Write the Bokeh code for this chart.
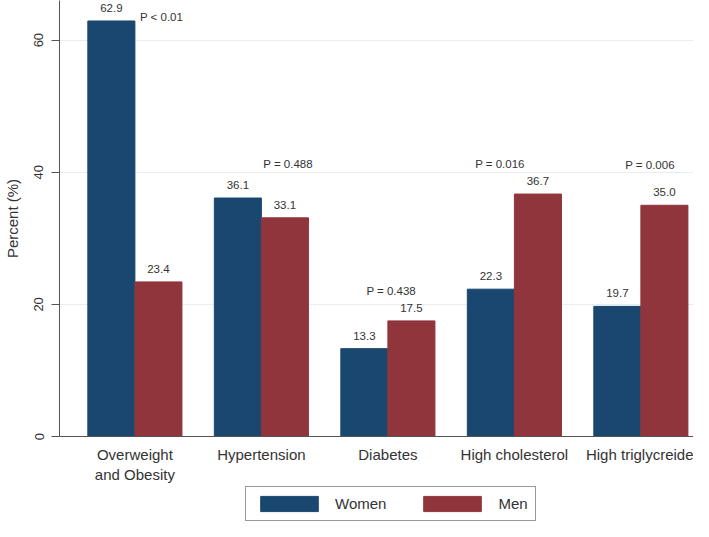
from bokeh.plotting import figure
from bokeh.layouts import column
from bokeh.models import ColumnDataSource, LabelSet, Legend, LegendItem, FixedTicker, Range1d
from bokeh.core.properties import value
from bokeh.embed import file_html
from bokeh.resources import INLINE

categories = ["Overweight\nand Obesity", "Hypertension", "Diabetes", "High cholesterol", "High triglycreide"]
women = [62.9, 36.1, 13.3, 22.3, 19.7]
men = [23.4, 33.1, 17.5, 36.7, 35.0]
series_names = ["Women", "Men"]
p_labels = ["P < 0.01", "P = 0.488", "P = 0.438", "P = 0.016", "P = 0.006"]
p_x = [0.04, 1.015, 1.83, 2.69, 3.876]
p_y = [63.5, 41.2, 22.0, 41.2, 41.1]
y_ticks = [0, 20, 40, 60]

NAVY = "#1a476f"
MAROON = "#90353b"
TXT = "#333333"
FONT = "Liberation Sans"
BW = 0.372

idx = list(range(len(categories)))
src_w = ColumnDataSource(dict(x=[i - BW / 2 for i in idx], top=women,
                              lab=["%.1f" % v for v in women]))
src_m = ColumnDataSource(dict(x=[i + BW / 2 for i in idx], top=men,
                              lab=["%.1f" % v for v in men]))
src_p = ColumnDataSource(dict(x=p_x, y=p_y, lab=p_labels))

p = figure(width=693, height=486, output_backend="svg", toolbar_location=None,
           x_range=Range1d(-0.596, 4.416), y_range=Range1d(0, 66),
           min_border_left=50, min_border_right=0, min_border_top=0, min_border_bottom=50)
p.outline_line_color = None
p.background_fill_color = "white"

rw = p.vbar(x="x", top="top", width=BW, source=src_w, fill_color=NAVY, line_color=NAVY)
rm = p.vbar(x="x", top="top", width=BW, source=src_m, fill_color=MAROON, line_color=MAROON)

for s in (src_w, src_m):
    p.add_layout(LabelSet(x="x", y="top", text="lab", source=s, text_align="center",
                          text_baseline="bottom", y_offset=9, text_font=value(FONT),
                          text_font_size=value("11.5px"), text_color=TXT))
p.add_layout(LabelSet(x="x", y="y", text="lab", source=src_p, text_align="left",
                      text_baseline="middle", text_font=value(FONT),
                      text_font_size=value("11.5px"), text_color=TXT))

# axes
p.xaxis.ticker = FixedTicker(ticks=idx)
p.xaxis.major_label_overrides = {i: c for i, c in zip(idx, categories)}
p.xaxis.major_tick_line_color = None
p.xaxis.minor_tick_line_color = None
p.xaxis.axis_line_color = "#555555"
p.xaxis.major_label_text_font = FONT
p.xaxis.major_label_text_font_size = "15px"
p.xaxis.major_label_text_color = TXT
p.xaxis.major_label_standoff = 3

p.yaxis.ticker = FixedTicker(ticks=y_ticks)
p.yaxis.minor_tick_line_color = None
p.yaxis.major_tick_out = 8
p.yaxis.major_tick_in = 0
p.yaxis.major_tick_line_color = "#555555"
p.yaxis.axis_line_color = "#555555"
p.yaxis.major_label_orientation = "vertical"
p.yaxis.major_label_text_font = FONT
p.yaxis.major_label_text_font_size = "13px"
p.yaxis.major_label_text_color = TXT
p.yaxis.major_label_standoff = 8
p.yaxis.axis_label = "Percent (%)"
p.yaxis.axis_label_text_font = FONT
p.yaxis.axis_label_text_font_size = "15px"
p.yaxis.axis_label_text_font_style = "normal"
p.yaxis.axis_label_text_color = TXT
p.yaxis.axis_label_standoff = 11

p.xgrid.grid_line_color = None
p.ygrid.ticker = FixedTicker(ticks=y_ticks[1:])
p.ygrid.grid_line_color = "#e6eef1"
p.ygrid.grid_line_width = 1

# legend strip below the chart
q = figure(width=693, height=35, output_backend="svg", toolbar_location=None,
           x_axis_location=None, y_axis_location=None,
           x_range=Range1d(0, 1), y_range=Range1d(0, 1),
           min_border=0, min_border_left=0, min_border_right=0,
           min_border_top=0, min_border_bottom=0)
q.grid.visible = False
q.outline_line_color = None
lw = q.vbar(x=[5], top=[1], width=0.1, fill_color=NAVY, line_color=NAVY)
lm = q.vbar(x=[5], top=[1], width=0.1, fill_color=MAROON, line_color=MAROON)
legend = Legend(items=[LegendItem(label=series_names[0], renderers=[lw]),
                       LegendItem(label=series_names[1], renderers=[lm])],
                orientation="horizontal", location=(186, 0),
                glyph_width=72, glyph_height=19, label_text_font=FONT,
                label_text_font_size="15px", label_text_color=TXT,
                border_line_color="#333333", border_line_width=1,
                padding=7, spacing=30, label_standoff=10, margin=0,
                background_fill_alpha=1)
q.add_layout(legend, "center")

layout = column(p, q, spacing=0)
open("out.html", "w").write(file_html(layout, INLINE))
